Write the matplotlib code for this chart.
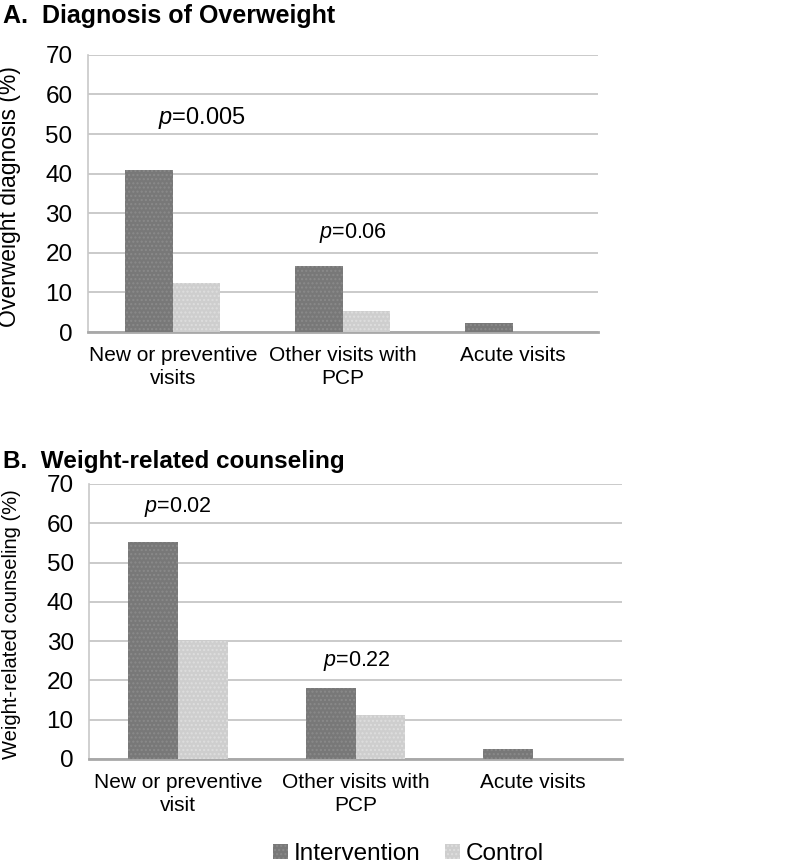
import matplotlib
matplotlib.use("Agg")
import matplotlib.pyplot as plt
import numpy as np

# Datos
categorias_a = ["New or preventive\nvisits", "Other visits with\nPCP", "Acute visits"]
categorias_b = ["New or preventive\nvisit", "Other visits with\nPCP", "Acute visits"]
intervencion_a = [41, 16.8, 2.3]
control_a = [12.3, 5.3, 0]
intervencion_b = [55.2, 18.1, 2.5]
control_b = [30.1, 11.2, 0]
pvalores_a = ["0.005", "0.06"]
pvalores_b = ["0.02", "0.22"]
yticks = [0, 10, 20, 30, 40, 50, 60, 70]

plt.rcParams["font.family"] = ["Liberation Sans", "DejaVu Sans"]
plt.rcParams["mathtext.fontset"] = "custom"
plt.rcParams["mathtext.it"] = "Liberation Sans:italic"
plt.rcParams["mathtext.rm"] = "Liberation Sans"
plt.rcParams["hatch.linewidth"] = 1.0

fig = plt.figure(figsize=(7.98, 8.66), dpi=100)

color_int = "#787878"
color_ctl = "#cecece"
ancho = 0.28


def panel(ax, cats, inter, ctl, pvals, p_pos, p_sizes, ylabel, ylabel_size):
    x = np.arange(len(cats))
    ax.bar(x - ancho / 2, inter, ancho, color=color_int, edgecolor="#8a8a8a",
           hatch="....", linewidth=0, zorder=3, label="Intervention")
    ax.bar(x + ancho / 2, ctl, ancho, color=color_ctl, edgecolor="#dedede",
           hatch="....", linewidth=0, zorder=3, label="Control")
    ax.set_xlim(-0.5, len(cats) - 0.5)
    ax.set_ylim(0, 70)
    ax.set_yticks(yticks)
    ax.set_xticks(x)
    ax.set_xticklabels(cats, fontsize=15, linespacing=1.25)
    ax.tick_params(axis="y", labelsize=17.5, length=0, pad=11)
    ax.tick_params(axis="x", length=0, pad=10)
    ax.yaxis.grid(True, color="#c6c6c6", linewidth=1.3)
    ax.set_axisbelow(True)
    for s in ["top", "right"]:
        ax.spines[s].set_visible(False)
    ax.spines["left"].set_color("#c8c8c8")
    ax.spines["left"].set_linewidth(1.2)
    ax.spines["bottom"].set_color("#a8a8a8")
    ax.spines["bottom"].set_linewidth(2)
    ax.set_ylabel(ylabel, fontsize=ylabel_size)
    for (px, py), pv, fs in zip(p_pos, pvals, p_sizes):
        ax.text(px, py, r"$\it{p}$=" + pv, fontsize=fs, ha="center", va="center")


axA = fig.add_axes([0.110, 0.6166, 0.639, 0.320])
panel(axA, categorias_a, intervencion_a, control_a, pvalores_a,
      [(0.17, 54), (1.06, 25)], [17, 15.5], "Overweight diagnosis (%)", 16.5)
axA.yaxis.set_label_coords(-0.13, 0.49)

axB = fig.add_axes([0.1115, 0.1236, 0.668, 0.3176])
panel(axB, categorias_b, intervencion_b, control_b, pvalores_b,
      [(0.0, 64), (1.01, 25)], [15.5, 15.5], "Weight-related counseling (%)", 14.5)
axB.yaxis.set_label_coords(-0.127, 0.49)

fig.text(0.004, 0.982, "A.  Diagnosis of Overweight", fontsize=18,
         fontweight="bold", ha="left", va="center")
fig.text(0.004, 0.467, "B.  Weight-related counseling", fontsize=17.5,
         fontweight="bold", ha="left", va="center")

handles, labels = axB.get_legend_handles_labels()
fig.legend(handles, labels, loc="center", bbox_to_anchor=(0.512, 0.014),
           ncol=2, frameon=False, fontsize=17.5, handlelength=0.6,
           handleheight=0.6, handletextpad=0.25, columnspacing=1.0)

fig.savefig("out.png", dpi=100)
